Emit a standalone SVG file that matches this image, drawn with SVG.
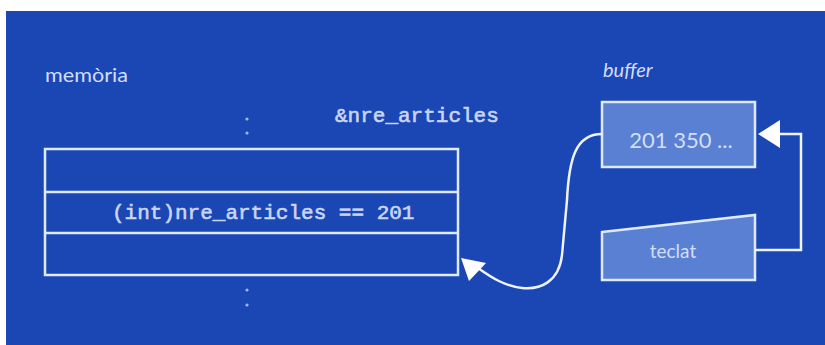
<svg xmlns="http://www.w3.org/2000/svg" width="825" height="345" viewBox="0 0 825 345">
  <style>
    .box { fill: none; stroke: #dfe9ff; stroke-width: 2.5; }
    .filled { fill: #5a80d4; stroke: #dfe9ff; stroke-width: 2.5; }
    .wire { fill: none; stroke: #eef3ff; stroke-width: 2.5; }
    .head { fill: #ffffff; }
    .label { font-family: "Lato", "Noto Sans", sans-serif; fill: #d3def7; }
    .code { font-family: "Liberation Mono", "DejaVu Sans Mono", monospace; fill: #c8d6f4; stroke: #c8d6f4; stroke-width: 0.6; }
    .dot { fill: #9fb8ee; }
  </style>

  <rect x="0" y="0" width="825" height="345" fill="#ffffff"/>
  <rect x="6" y="11" width="819" height="334" fill="#1b47b5"/>

  <g id="memoria">
    <text class="label" x="45" y="82" font-size="20" textLength="83" lengthAdjust="spacingAndGlyphs">memòria</text>
    <circle class="dot" cx="247" cy="119" r="1.6"/>
    <circle class="dot" cx="247" cy="133" r="1.6"/>
    <text class="code" x="335" y="122" font-size="21">&amp;nre_articles</text>
    <rect class="box" x="45" y="149" width="413" height="126"/>
    <line class="box" x1="45" y1="192" x2="458" y2="192"/>
    <line class="box" x1="45" y1="233" x2="458" y2="233"/>
    <text class="code" x="112" y="219" font-size="21">(int)nre_articles == 201</text>
    <circle class="dot" cx="247" cy="290" r="1.6"/>
    <circle class="dot" cx="247" cy="305" r="1.6"/>
  </g>

  <g id="buffer">
    <text class="label" x="603" y="77" font-size="20" font-style="italic">buffer</text>
    <rect class="filled" x="602" y="102" width="153" height="65"/>
    <text class="label" x="681" y="148" font-size="22" text-anchor="middle">201 350 ...</text>
  </g>

  <g id="teclat">
    <polygon class="filled" points="602,232 755,215 755,280 602,280"/>
    <text class="label" x="673" y="258" font-size="19" text-anchor="middle">teclat</text>
  </g>

  <g id="connectors">
    <path class="wire" d="M755,250 L801,250 L801,134 L778,134"/>
    <polygon class="head" points="758,134 780,120 780,148"/>
    <path class="wire" d="M602,134 C576,134 569,158 567,200 L562,255 C559,282 540,290 522,288 C505,286 492,278 478,268"/>
    <polygon class="head" points="461,258 486,263 469,281"/>
  </g>
</svg>
